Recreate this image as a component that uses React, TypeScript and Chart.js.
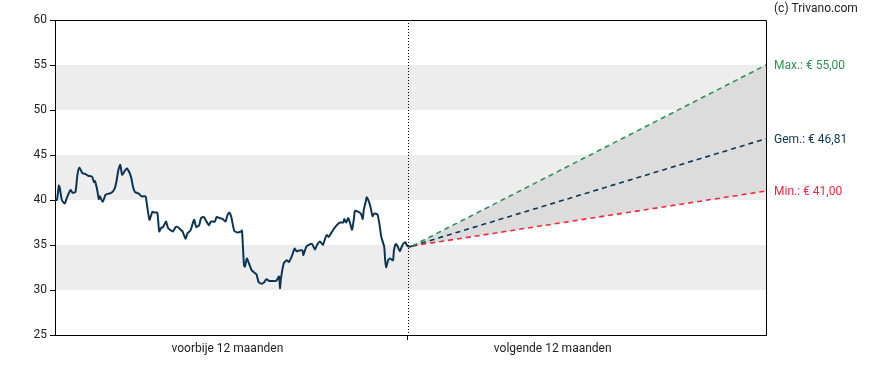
import React, { useEffect, useRef } from "react";
import { Chart, registerables } from "chart.js";

Chart.register(...registerables);

// Past 12 months: day offsets and closing prices
const pastDays = [0, 2, 4, 5, 7, 10, 12, 16, 18, 21, 23, 25, 28, 31, 34, 38, 40, 41, 43, 45, 46, 49, 52, 55, 58, 61, 63, 65, 67, 69, 72, 74, 78, 80, 82, 86, 89, 93, 94, 97, 100, 102, 105, 107, 109, 111, 114, 116, 118, 121, 124, 126, 129, 131, 134, 136, 139, 142, 143, 145, 148, 150, 153, 155, 158, 160, 164, 166, 169, 172, 175, 177, 179, 181, 184, 187, 191, 192, 194, 195, 197, 199, 202, 205, 207, 209, 212, 215, 217, 220, 224, 227, 230, 231, 232, 235, 238, 240, 243, 246, 248, 251, 254, 255, 258, 262, 264, 267, 269, 272, 275, 277, 279, 281, 284, 287, 291, 293, 296, 297, 299, 301, 303, 305, 307, 308, 311, 314, 316, 317, 319, 320, 322, 324, 326, 328, 331, 333, 335, 338, 339, 340, 342, 344, 347, 348, 350, 352, 354, 356, 358, 360, 361, 364, 367];
const pastPrices = [40.0, 40.0, 41.6, 41.3, 40.0, 39.6, 40.2, 41.1, 40.8, 40.9, 42.8, 43.6, 43.0, 42.9, 42.7, 42.6, 42.0, 42.1, 41.3, 40.1, 40.4, 39.8, 40.6, 40.7, 40.8, 41.2, 42.0, 43.3, 43.9, 42.8, 43.3, 43.5, 42.6, 41.5, 40.9, 40.7, 40.4, 40.4, 39.8, 37.8, 38.7, 38.6, 38.6, 36.5, 36.9, 37.0, 37.6, 36.9, 36.7, 36.5, 37.0, 37.0, 36.7, 36.5, 35.7, 36.3, 36.6, 37.6, 37.8, 37.0, 37.2, 38.0, 38.1, 37.7, 37.2, 37.6, 37.6, 38.1, 38.0, 37.9, 37.6, 38.3, 38.6, 38.1, 36.6, 36.4, 36.5, 36.6, 32.8, 32.6, 33.5, 33.0, 32.2, 31.9, 31.7, 30.9, 30.7, 30.9, 31.2, 31.0, 31.0, 31.0, 31.5, 30.2, 31.3, 33.0, 33.3, 33.1, 33.7, 34.6, 34.3, 34.4, 34.4, 33.9, 34.8, 35.1, 35.1, 34.5, 35.0, 35.4, 35.0, 35.6, 36.1, 35.9, 36.4, 36.9, 37.4, 37.5, 37.5, 37.9, 37.5, 38.0, 37.4, 36.7, 38.0, 38.8, 38.7, 38.5, 37.9, 38.9, 39.8, 40.3, 39.9, 39.2, 38.2, 38.5, 38.4, 37.4, 35.9, 34.8, 33.3, 32.5, 33.3, 33.5, 33.3, 34.4, 35.1, 34.8, 34.3, 34.8, 35.2, 35.3, 35.0, 34.8, 34.9];

// Forecast (next 12 months)
const forecastDays = [367, 730];
const forecastMax = [34.9, 55.0];
const forecastAvg = [34.9, 46.81];
const forecastMin = [34.9, 41.0];

const forecastLabels = ["Max.: € 55,00", "Gem.: € 46,81", "Min.: € 41,00"];
const forecastLabelValues = [55.0, 46.81, 41.0];

const xTickDays = [177, 511];
const xTickLabels = ["voorbije 12 maanden", "volgende 12 maanden"];
const dividerDay = 362;
const bandRanges = [[30, 35], [40, 45], [50, 55]];
const copyright = "(c) Trivano.com";

const NAVY = "#0c3553";
const GREEN = "#2f9152";
const RED = "#f5273c";
const FONT = "Roboto";

export default function App() {
  const ref = useRef<HTMLCanvasElement | null>(null);

  useEffect(() => {
    if (!ref.current) return;

    const decor = {
      id: "decor",
      beforeDraw(chart: any) {
        const { ctx, chartArea } = chart;
        const y = chart.scales.y;
        ctx.save();
        ctx.fillStyle = "#ededed";
        for (const [a, b] of bandRanges) {
          const y1 = y.getPixelForValue(b);
          const y2 = y.getPixelForValue(a);
          ctx.fillRect(chartArea.left, y1, chartArea.right - chartArea.left, y2 - y1);
        }
        ctx.restore();
      },
      afterDatasetsDraw(chart: any) {
        const { ctx, chartArea } = chart;
        const x = chart.scales.x;
        const y = chart.scales.y;
        ctx.save();
        // dotted divider
        const dx = Math.round(x.getPixelForValue(dividerDay)) + 0.5;
        ctx.strokeStyle = "#000";
        ctx.lineWidth = 1;
        ctx.setLineDash([1, 2]);
        ctx.beginPath();
        ctx.moveTo(dx, chartArea.top);
        ctx.lineTo(dx, chartArea.bottom);
        ctx.stroke();
        ctx.setLineDash([]);
        // frame
        ctx.beginPath();
        ctx.moveTo(chartArea.left, chartArea.top + 0.5);
        ctx.lineTo(chartArea.right + 0.5, chartArea.top + 0.5);
        ctx.lineTo(chartArea.right + 0.5, chartArea.bottom);
        ctx.stroke();
        // right labels
        ctx.font = `12px ${FONT}`;
        ctx.textBaseline = "middle";
        ctx.textAlign = "left";
        const cols = [GREEN, NAVY, RED];
        forecastLabels.forEach((t, i) => {
          ctx.fillStyle = cols[i];
          ctx.fillText(t, chartArea.right + 8, y.getPixelForValue(forecastLabelValues[i]) + 1);
        });
        ctx.fillStyle = "#222";
        ctx.fillText(copyright, chartArea.right + 8, 9);
        ctx.restore();
      },
    };

    const chart = new Chart(ref.current, {
      type: "line",
      data: {
        datasets: [
          {
            data: pastDays.map((d, i) => ({ x: d, y: pastPrices[i] })),
            borderColor: NAVY,
            borderWidth: 2,
            pointRadius: 0,
            tension: 0.2,
            fill: false,
          },
          {
            data: forecastDays.map((d, i) => ({ x: d, y: forecastMax[i] })),
            borderColor: GREEN,
            borderWidth: 1.6,
            borderDash: [5, 4],
            pointRadius: 0,
            fill: "+2",
            backgroundColor: "#dcdcdc",
          },
          {
            data: forecastDays.map((d, i) => ({ x: d, y: forecastAvg[i] })),
            borderColor: NAVY,
            borderWidth: 1.6,
            borderDash: [5, 4],
            pointRadius: 0,
            fill: false,
          },
          {
            data: forecastDays.map((d, i) => ({ x: d, y: forecastMin[i] })),
            borderColor: RED,
            borderWidth: 1.6,
            borderDash: [5, 4],
            pointRadius: 0,
            fill: false,
          },
        ],
      },
      options: {
        animation: false,
        responsive: false,
        maintainAspectRatio: false,
        layout: { padding: { left: 0, right: 122, top: 20, bottom: 0 } },
        plugins: {
          legend: { display: false },
          tooltip: { enabled: false },
          filler: { drawTime: "beforeDatasetsDraw" },
        } as any,
        scales: {
          x: {
            type: "linear",
            min: 0,
            max: 730,
            afterBuildTicks: (scale: any) => {
              scale.ticks = [...xTickDays, dividerDay].map((v) => ({ value: v }));
            },
            afterFit: (scale: any) => {
              scale.height = 35;
            },
            ticks: {
              autoSkip: false,
              maxRotation: 0,
              padding: 2,
              color: "#222",
              font: { family: FONT, size: 12 },
              callback: (v: any) => {
                const i = xTickDays.indexOf(Number(v));
                return i >= 0 ? xTickLabels[i] : "";
              },
            },
            grid: {
              drawOnChartArea: false,
              drawTicks: true,
              tickLength: 5,
              tickColor: (ctx: any) =>
                ctx.tick && ctx.tick.value === dividerDay ? "#000" : "rgba(0,0,0,0)",
            },
            border: { color: "#000", width: 1 },
          },
          y: {
            min: 25,
            max: 60,
            afterFit: (scale: any) => {
              scale.width = 55;
            },
            ticks: {
              stepSize: 5,
              padding: 3,
              color: "#222",
              font: { family: FONT, size: 12 },
            },
            grid: {
              drawOnChartArea: false,
              drawTicks: true,
              tickLength: 5,
              tickColor: "#000",
            },
            border: { color: "#000", width: 1 },
          },
        },
      },
      plugins: [decor],
    });
    return () => chart.destroy();
  }, []);

  return (
    <div style={{ position: "fixed", left: 0, top: 0, width: 888, height: 370, background: "#fff" }}>
      <canvas ref={ref} width={888} height={370} style={{ width: 888, height: 370 }} />
    </div>
  );
}
